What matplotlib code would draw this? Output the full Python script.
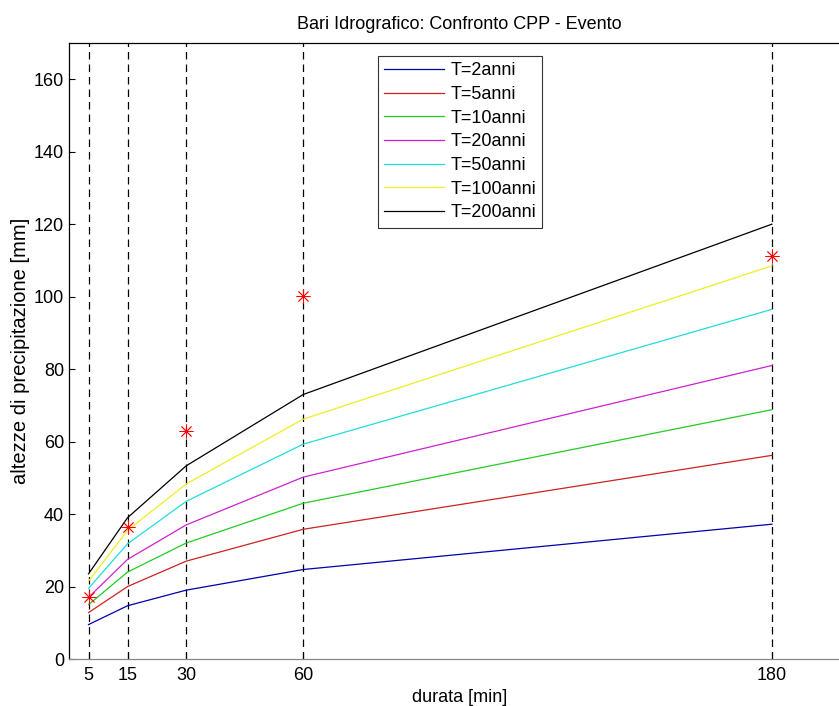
import numpy as np
import matplotlib.pyplot as plt

plt.rcParams['font.family'] = ['Liberation Sans', 'DejaVu Sans']

durate = [5, 15, 30, 60, 180]
tempi_ritorno = ['T=2anni', 'T=5anni', 'T=10anni', 'T=20anni', 'T=50anni', 'T=100anni', 'T=200anni']
h_cpp = [
    [9.5, 14.7, 19.0, 24.7, 37.2],
    [12.8, 20.0, 27.0, 35.8, 56.2],
    [15.0, 24.0, 32.0, 43.0, 68.8],
    [17.0, 27.5, 37.0, 50.2, 81.0],
    [19.5, 31.8, 43.5, 59.3, 96.5],
    [21.5, 35.5, 48.3, 66.2, 108.5],
    [23.5, 39.0, 53.3, 73.0, 120.0],
]
h_evento = [17.2, 36.5, 63.0, 100.3, 111.2]
colori = ['#0000aa', '#cc2222', '#22cc22', '#cc22cc', '#22dddd', '#eeee22', '#000000']

fs = 13

fig = plt.figure(figsize=(8.39, 7.06), dpi=100)
ax = fig.add_axes([69 / 839, 47 / 706, 781 / 839, 616 / 706])

for d in durate:
    ax.axvline(d, color='black', linestyle=(0, (6, 4)), linewidth=0.9, zorder=1)

for h, c, lab in zip(h_cpp, colori, tempi_ritorno):
    ax.plot(durate, h, color=c, linewidth=0.9, label=lab, zorder=2)

ax.plot(durate, h_evento, linestyle='none', marker=(8, 2, 0), color='red',
        markersize=10, markeredgewidth=0.6, zorder=3)

ax.set_xlim(0, 200)
ax.set_ylim(0, 170)
ax.set_xticks(durate)
ax.set_yticks(np.arange(0, 161, 20))
ax.tick_params(direction='in', length=4, labelsize=fs, width=0.8)
ax.tick_params(axis='x', pad=6)
for s in ax.spines.values():
    s.set_linewidth(0.9)
ax.spines['bottom'].set_color('#888888')

ax.set_title('Bari Idrografico: Confronto CPP - Evento', fontsize=fs, pad=10)
ax.set_xlabel('durata [min]', fontsize=fs, labelpad=3)
ax.set_ylabel('altezze di precipitazione [mm]', fontsize=14.5, labelpad=3)

leg = ax.legend(loc='upper left', bbox_to_anchor=(309 / 781, 1 - 13 / 616), fontsize=fs,
                frameon=True, fancybox=False, edgecolor='black', handlelength=3.3,
                labelspacing=0.37, borderpad=0.35, handletextpad=0.35, borderaxespad=0)
leg.get_frame().set_linewidth(0.8)

fig.savefig('out.png', dpi=100)
